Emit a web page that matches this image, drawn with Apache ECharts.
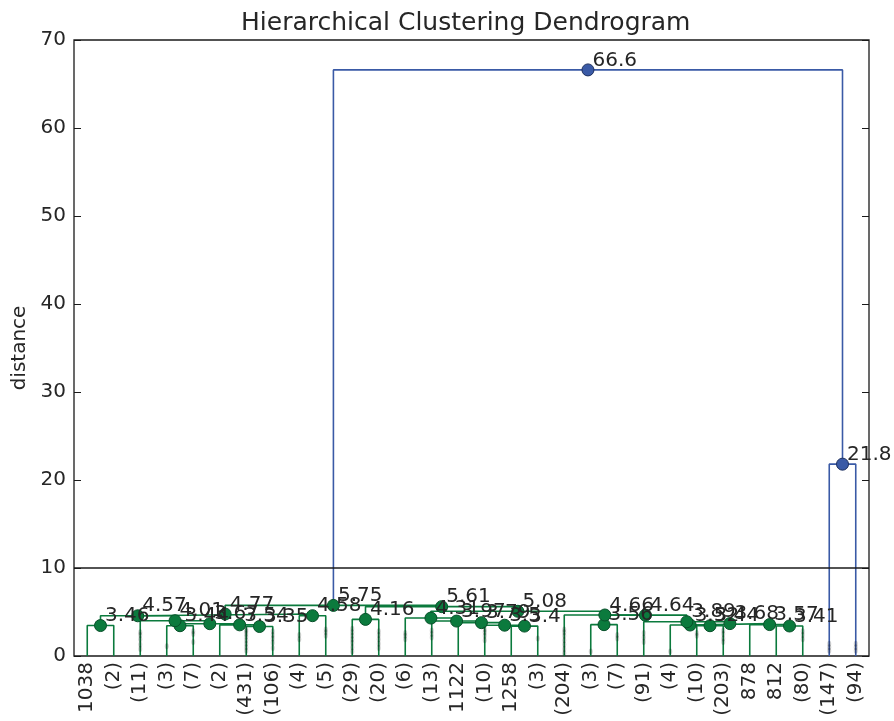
<!DOCTYPE html>
<html>
<head>
<meta charset="utf-8">
<script src="https://cdn.jsdelivr.net/npm/echarts@6/dist/echarts.min.js"></script>
<style>
  html, body { margin: 0; padding: 0; background: #fff; }
  #chart { width: 894px; height: 721px; }
</style>
</head>
<body>
<div id="chart"></div>
<script>
// Leaf labels in display order (parentheses = size of a contracted cluster)
const leafLabels = [
  '1038', '(2)', '(11)', '(3)', '(7)', '(2)', '(431)', '(106)', '(4)', '(5)',
  '(29)', '(20)', '(6)', '(13)', '1122', '(10)', '1258', '(3)', '(204)', '(3)',
  '(7)', '(91)', '(4)', '(10)', '(203)', '878', '812', '(80)', '(147)', '(94)'
];

// Linkage rows: [left node, right node, merge distance]; leaves are 0..29,
// each new row creates node 30, 31, ...
const linkage = [
  [0, 1, 3.46],
  [3, 4, 3.44],
  [6, 7, 3.35],
  [5, 32, 3.54],
  [31, 33, 3.67],
  [2, 34, 4.01],
  [30, 35, 4.57],
  [8, 9, 4.58],
  [36, 37, 4.77],
  [10, 11, 4.16],
  [16, 17, 3.4],
  [15, 40, 3.5],
  [14, 41, 3.79],
  [13, 42, 3.97],
  [12, 43, 4.31],
  [19, 20, 3.56],
  [23, 24, 3.44],
  [22, 46, 3.52],
  [26, 27, 3.41],
  [25, 48, 3.57],
  [47, 49, 3.68],
  [21, 50, 3.89],
  [45, 51, 4.64],
  [18, 52, 4.66],
  [44, 53, 5.08],
  [39, 54, 5.61],
  [38, 55, 5.75],
  [28, 29, 21.8],
  [56, 57, 66.6]
];

// Heights of merges hidden inside each contracted leaf
const contracted = [
  [], [], [0.8, 1.3, 1.9, 2.4, 2.7], [1.1], [1.6, 2.5, 2.8], [],
  [0.6, 1.0, 1.4, 1.8, 2.2, 2.5, 2.8, 3.0], [0.9, 1.5, 2.0, 2.4, 2.8],
  [1.9, 2.4], [2.3, 2.7, 3.0],
  [0.5, 1.0, 1.5, 1.9, 2.3, 2.7, 3.1], [0.9, 1.4, 1.9, 2.4, 2.8],
  [1.9, 2.3, 2.6], [2.1, 2.5, 2.9], [], [1.8, 2.3, 2.7, 3.0], [], [2.0],
  [0.3, 0.8, 1.3, 1.8, 2.3, 2.7, 3.0], [0.5],
  [2.0, 2.4], [1.6, 2.1, 2.6], [0.5], [2.3, 2.6], [1.6, 2.0, 2.5, 2.9],
  [], [], [1.9, 2.4, 2.8], [0.6, 1.0, 1.4], [0.6, 1.0, 1.4]
];

const cutDistance = 10;      // horizontal reference line
const colorThreshold = 10;   // links above this use the upper colour

const GREEN = '#0b7a3d';
const GREEN_EDGE = '#08502a';
const BLUE = '#3a5aa6';
const BLUE_EDGE = '#1d2f5e';
const INK = '#262626';
const FONT = 'DejaVu Sans';

// Three significant digits, trailing zeros dropped
const fmt3g = v => String(parseFloat(Number(v).toPrecision(3)));

// Node positions in dendrogram coordinates (leaf i sits at 5 + 10 i)
const xs = leafLabels.map((_, i) => 5 + 10 * i);
const hs = leafLabels.map(() => 0);
linkage.forEach(([a, b, h]) => {
  xs.push((xs[a] + xs[b]) / 2);
  hs.push(h);
});

const series = [];

// U-shaped link for every merge
linkage.forEach(([a, b, h]) => {
  const c = h > colorThreshold ? BLUE : GREEN;
  series.push({
    type: 'line',
    xAxisIndex: 1,
    yAxisIndex: 0,
    data: [[xs[a], hs[a]], [xs[a], h], [xs[b], h], [xs[b], hs[b]]],
    symbol: 'none',
    silent: true,
    animation: false,
    lineStyle: { color: c, width: 1.6 },
    z: 2
  });
});

// Marks for merges inside contracted leaves
const contractionData = [];
contracted.forEach((list, i) => list.forEach(h => contractionData.push([xs[i], h])));
series.push({
  type: 'scatter',
  xAxisIndex: 1,
  yAxisIndex: 0,
  data: contractionData,
  symbol: 'circle',
  symbolSize: [4, 6],
  itemStyle: { color: 'rgba(0,0,0,0.18)', opacity: 1 },
  silent: true,
  animation: false,
  z: 6
});

// Distance cut line
series.push({
  type: 'line',
  xAxisIndex: 1,
  yAxisIndex: 0,
  data: [[0, cutDistance], [300, cutDistance]],
  symbol: 'none',
  silent: true,
  animation: false,
  lineStyle: { color: '#1a1a1a', width: 1.3 },
  z: 4
});

// Merge points annotated with their distance
series.push({
  type: 'scatter',
  xAxisIndex: 1,
  yAxisIndex: 0,
  data: linkage.map(([a, b, h], k) => ({
    value: [xs[leafLabels.length + k], h],
    itemStyle: {
      color: h > colorThreshold ? BLUE : GREEN,
      borderColor: h > colorThreshold ? BLUE_EDGE : GREEN_EDGE,
      borderWidth: 1,
      opacity: 1
    }
  })),
  symbol: 'circle',
  symbolSize: 12,
  silent: true,
  animation: false,
  z: 5,
  label: {
    show: true,
    position: [11, -3],
    align: 'left',
    verticalAlign: 'middle',
    fontFamily: FONT,
    fontSize: 20,
    color: INK,
    opacity: 1,
    formatter: p => fmt3g(p.value[1])
  }
});

const chart = echarts.init(document.getElementById('chart'), null, { renderer: 'canvas' });
chart.setOption({
  backgroundColor: '#fff',
  animation: false,
  textStyle: { fontFamily: FONT },
  graphic: [{
    type: 'text',
    left: 472 - 231,
    top: 11,
    style: {
      text: 'Hierarchical Clustering Dendrogram',
      font: '25px "DejaVu Sans"',
      fill: INK
    }
  }],
  grid: {
    left: 74, right: 25, top: 40, bottom: 65,
    show: true, borderColor: '#1a1a1a', borderWidth: 1.3,
    containLabel: false
  },
  xAxis: [{
    type: 'category',
    data: leafLabels,
    boundaryGap: true,
    axisLine: { show: false },
    axisTick: { show: false },
    splitLine: { show: false },
    axisLabel: {
      rotate: 90, margin: 6, interval: 0,
      fontFamily: FONT, fontSize: 20, color: INK
    }
  }, {
    type: 'value',
    min: 0, max: 300,
    show: false
  }],
  yAxis: [{
    type: 'value',
    min: 0, max: 70, interval: 10,
    name: 'distance',
    nameLocation: 'middle',
    nameRotate: 90,
    nameGap: 44,
    nameTextStyle: { fontFamily: FONT, fontSize: 20, color: INK },
    axisLine: { show: false },
    axisTick: { show: true, inside: true, length: 7, lineStyle: { color: '#1a1a1a', width: 1 } },
    splitLine: { show: false },
    axisLabel: { margin: 8, fontFamily: FONT, fontSize: 20, color: INK }
  }, {
    type: 'value',
    position: 'right',
    min: 0, max: 70, interval: 10,
    axisLine: { show: false },
    axisTick: { show: true, inside: true, length: 7, lineStyle: { color: '#1a1a1a', width: 1 } },
    splitLine: { show: false },
    axisLabel: { show: false }
  }],
  series
});
</script>
</body>
</html>
